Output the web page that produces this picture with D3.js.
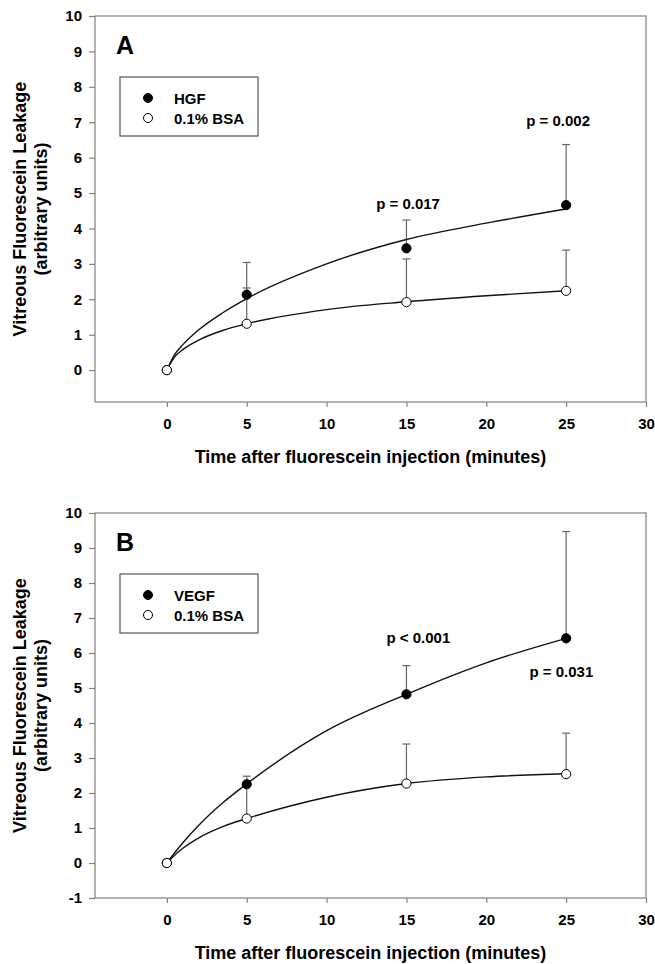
<!DOCTYPE html>
<html>
<head>
<meta charset="utf-8">
<script src="https://cdn.jsdelivr.net/npm/d3@7"></script>
<style>
 body { margin: 0; background: #fff; }
 svg { display: block; font-family: Arial, "Liberation Sans", sans-serif; }
</style>
</head>
<body>
<script>
// measured time points (minutes)
var times = [0, 5, 15, 25];

// panel A : HGF vs 0.1% BSA
var hgfMean   = [0, 2.13, 3.44, 4.66];
var hgfUpper  = [0, 3.04, 4.24, 6.37];
var bsaAMean  = [0, 1.31, 1.92, 2.24];
var bsaAUpper = [0, 2.32, 3.14, 3.39];

// panel B : VEGF vs 0.1% BSA
var vegfMean  = [0, 2.25, 4.82, 6.42];
var vegfUpper = [0, 2.48, 5.64, 9.47];
var bsaBMean  = [0, 1.27, 2.27, 2.54];
var bsaBUpper = [0, 2.20, 3.40, 3.71];

// fitted curves
var fitTimes = [0, 0.5, 1, 2, 3.5, 5, 10, 15, 20, 25];
var hgfFit   = [0, 0.45, 0.72, 1.14, 1.62, 2.02, 3.00, 3.69, 4.15, 4.55];
var bsaAFit  = [0, 0.38, 0.58, 0.85, 1.12, 1.31, 1.71, 1.93, 2.10, 2.24];
var vegfFit  = [0, 0.30, 0.58, 1.08, 1.72, 2.26, 3.78, 4.82, 5.72, 6.42];
var bsaBFit  = [0, 0.23, 0.42, 0.72, 1.04, 1.27, 1.88, 2.27, 2.46, 2.55];

var xTicks = [0, 5, 10, 15, 20, 25, 30];
var pA = [{t: "p = 0.017", x: 15.1, y: 4.71}, {t: "p = 0.002", x: 24.5, y: 7.06}];
var pB = [{t: "p < 0.001", x: 15.75, y: 6.44}, {t: "p = 0.031", x: 24.7, y: 5.48}];

var svg = d3.select("body").append("svg")
    .attr("width", 655)
    .attr("height", 964);

var axisGrey = "#808080";

function zip(xs, ys) {
  return xs.map(function(d, i) { return {x: d, y: ys[i]}; });
}

function panel(cfg) {
  var x = d3.scaleLinear().domain([-4.5, 30]).range([95, 646]);
  var y = d3.scaleLinear().domain(cfg.yDomain).range([cfg.bottom, cfg.top]);
  var g = svg.append("g");

  // frame
  g.append("rect")
    .attr("x", 95).attr("y", cfg.top)
    .attr("width", 646 - 95).attr("height", cfg.bottom - cfg.top)
    .attr("fill", "none").attr("stroke", axisGrey).attr("stroke-width", 1.2);

  var xa = g.append("g")
    .attr("transform", "translate(0," + cfg.bottom + ")")
    .call(d3.axisBottom(x).tickValues(xTicks).tickSize(5).tickPadding(11).tickSizeOuter(0));
  var ya = g.append("g")
    .attr("transform", "translate(95,0)")
    .call(d3.axisLeft(y).tickValues(cfg.yTicks).tickSize(6).tickPadding(7).tickSizeOuter(0)
      .tickFormat(function(d) { return String(d); }));
  [xa, ya].forEach(function(a) {
    a.select(".domain").remove();
    a.selectAll("line").attr("stroke", axisGrey).attr("stroke-width", 1.2);
    a.selectAll("text")
      .attr("fill", "#000")
      .style("font-size", "15px")
      .style("font-weight", "bold")
      .style("font-family", "Arial, 'Liberation Sans', sans-serif");
  });

  // axis titles
  g.append("text")
    .attr("x", 370.5).attr("y", cfg.bottom + 61)
    .attr("text-anchor", "middle")
    .style("font-size", "18px").style("font-weight", "bold")
    .text("Time after fluorescein injection (minutes)");
  var cy = (cfg.top + cfg.bottom) / 2;
  g.append("text")
    .attr("transform", "translate(26," + cy + ") rotate(-90)")
    .attr("text-anchor", "middle")
    .style("font-size", "18px").style("font-weight", "bold")
    .text("Vitreous Fluorescein Leakage");
  g.append("text")
    .attr("transform", "translate(47," + cy + ") rotate(-90)")
    .attr("text-anchor", "middle")
    .style("font-size", "18px").style("font-weight", "bold")
    .text("(arbitrary units)");

  // panel letter
  g.append("text")
    .attr("x", 95 + 21).attr("y", cfg.top + 38)
    .style("font-size", "25px").style("font-weight", "bold")
    .text(cfg.letter);

  // legend
  var lx = 95 + 25, ly = cfg.top + 61;
  g.append("rect")
    .attr("x", lx).attr("y", ly).attr("width", 138).attr("height", 59)
    .attr("fill", "#fff").attr("stroke", "#555").attr("stroke-width", 1.2);
  [{name: cfg.name, fill: "#000"}, {name: "0.1% BSA", fill: "#fff"}].forEach(function(d, i) {
    g.append("circle")
      .attr("cx", lx + 28).attr("cy", ly + 21 + i * 20).attr("r", 4.5)
      .attr("fill", d.fill).attr("stroke", "#000").attr("stroke-width", 1);
    g.append("text")
      .attr("x", lx + 54).attr("y", ly + 21 + i * 20 + 5.5)
      .style("font-size", "15px").style("font-weight", "bold")
      .text(d.name);
  });

  var line = d3.line()
    .x(function(d) { return x(d.x); })
    .y(function(d) { return y(d.y); })
    .curve(d3.curveMonotoneX);

  // treatment first so the open BSA circle sits on top at t = 0
  var series = [
    {mean: cfg.treatMean, upper: cfg.treatUpper, fit: cfg.treatFit, fill: "#000"},
    {mean: cfg.bsaMean, upper: cfg.bsaUpper, fit: cfg.bsaFit, fill: "#fff"}
  ];

  // error bars (upper only)
  series.forEach(function(s) {
    var pts = zip(times, s.mean).map(function(d, i) { return {x: d.x, y: d.y, u: s.upper[i]}; })
      .filter(function(d) { return d.u > d.y; });
    g.selectAll(null).data(pts).enter().append("line")
      .attr("x1", function(d) { return x(d.x); }).attr("x2", function(d) { return x(d.x); })
      .attr("y1", function(d) { return y(d.y); }).attr("y2", function(d) { return y(d.u); })
      .attr("stroke", "#666").attr("stroke-width", 1.2);
    g.selectAll(null).data(pts).enter().append("line")
      .attr("x1", function(d) { return x(d.x) - 4; }).attr("x2", function(d) { return x(d.x) + 4; })
      .attr("y1", function(d) { return y(d.u); }).attr("y2", function(d) { return y(d.u); })
      .attr("stroke", "#666").attr("stroke-width", 1.2);
  });

  // fitted curves
  series.forEach(function(s) {
    g.append("path")
      .attr("d", line(zip(fitTimes, s.fit)))
      .attr("fill", "none").attr("stroke", "#111").attr("stroke-width", 1.4);
  });

  // points
  series.forEach(function(s) {
    g.selectAll(null).data(zip(times, s.mean)).enter().append("circle")
      .attr("cx", function(d) { return x(d.x); })
      .attr("cy", function(d) { return y(d.y); })
      .attr("r", 4.6)
      .attr("fill", s.fill).attr("stroke", "#000").attr("stroke-width", 1);
  });

  // p-values
  g.selectAll(null).data(cfg.notes).enter().append("text")
    .attr("x", function(d) { return x(d.x); })
    .attr("y", function(d) { return y(d.y) + 5.5; })
    .attr("text-anchor", "middle")
    .style("font-size", "15px").style("font-weight", "bold")
    .text(function(d) { return d.t; });
}

panel({
  letter: "A", name: "HGF",
  top: 16, bottom: 402, yDomain: [-0.9, 10], yTicks: d3.range(0, 11),
  treatMean: hgfMean, treatUpper: hgfUpper, treatFit: hgfFit,
  bsaMean: bsaAMean, bsaUpper: bsaAUpper, bsaFit: bsaAFit,
  notes: pA
});

panel({
  letter: "B", name: "VEGF",
  top: 513, bottom: 898, yDomain: [-1, 10], yTicks: d3.range(-1, 11),
  treatMean: vegfMean, treatUpper: vegfUpper, treatFit: vegfFit,
  bsaMean: bsaBMean, bsaUpper: bsaBUpper, bsaFit: bsaBFit,
  notes: pB
});
</script>
</body>
</html>
